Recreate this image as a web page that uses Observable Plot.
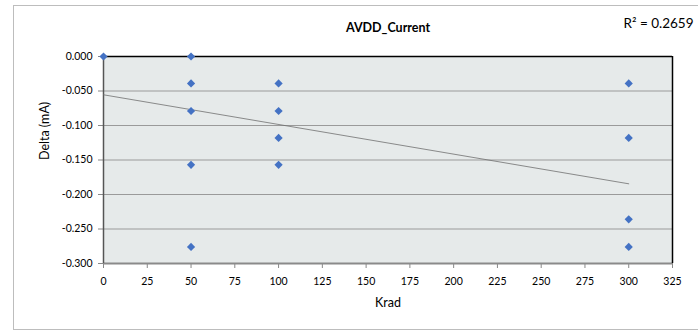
<!DOCTYPE html>
<html>
<head>
<meta charset="utf-8">
<script src="https://cdn.jsdelivr.net/npm/d3@7"></script>
<script src="https://cdn.jsdelivr.net/npm/@observablehq/plot@0.6"></script>
<style>
  body { margin: 0; background: #fff; }
  #wrap { position: relative; width: 698px; height: 336px; }
  #border { position: absolute; left: 13px; top: 5px; width: 690px; height: 325px; border: 1px solid #bdbdbd; box-sizing: border-box; }
  #wrap svg { position: absolute; left: 0; top: 0; }
</style>
</head>
<body>
<div id="wrap"><div id="border"></div></div>
<script>
// Data
const krad  = [0,     50,     50,     50,     50,     50,     100,    100,    100,    100,    300,    300,    300,    300];
const delta = [0.000, 0.000, -0.039, -0.079, -0.157, -0.276, -0.039, -0.079, -0.118, -0.157, -0.039, -0.118, -0.236, -0.276];
const trendX = [0, 300];
const trendY = [-0.0555, -0.1845];
const xTicks = [0, 25, 50, 75, 100, 125, 150, 175, 200, 225, 250, 275, 300, 325];
const yTicks = [0, -0.05, -0.10, -0.15, -0.20, -0.25, -0.30];
const titleText = "AVDD_Current";
const r2Text = "R² = 0.2659";

const points = krad.map((k, i) => ({x: k, y: delta[i]}));
const trend = trendX.map((k, i) => ({x: k, y: trendY[i]}));

const font = "Lato, 'Open Sans', sans-serif";

const chart = Plot.plot({
  width: 698,
  height: 336,
  marginLeft: 103,
  marginRight: 26,
  marginTop: 56,
  marginBottom: 73,
  style: {fontFamily: font, fontSize: "10.5px", color: "#000", background: "transparent"},
  x: {domain: [0, 325], ticks: xTicks, tickFormat: d => String(d), label: null},
  y: {domain: [-0.3, 0], ticks: yTicks, tickFormat: d => d.toFixed(3), label: null},
  marks: [
    Plot.frame({fill: "#e6eaea", stroke: null}),
    Plot.gridY(yTicks, {stroke: "#9a9a9a", strokeOpacity: 1, strokeWidth: 1}),
    Plot.axisX({ticks: xTicks, tickFormat: d => String(d), tickSize: 5, tickPadding: 9, stroke: "#888", fontSize: 10.5, label: null}),
    Plot.axisY({ticks: yTicks, tickFormat: d => d.toFixed(3), tickSize: 5, tickPadding: 6, stroke: "#888", fontSize: 10.5, label: null}),
    Plot.ruleY([-0.3], {stroke: "#8a8a8a", strokeWidth: 2}),
    Plot.ruleY([0], {stroke: "#000", strokeWidth: 1.5}),
    Plot.ruleX([325], {stroke: "#000", strokeWidth: 1.5}),
    Plot.ruleX([0], {stroke: "#555", strokeWidth: 1.5}),
    Plot.line(trend, {x: "x", y: "y", stroke: "#707070", strokeWidth: 0.8}),
    Plot.dot(points, {x: "x", y: "y", symbol: "diamond2", r: 3.7, fill: "#4472c4", stroke: null}),
    Plot.text([titleText], {text: d => d, frameAnchor: "top", dy: -33, fontWeight: "bold", fontSize: 12.5}),
    Plot.text([r2Text], {text: d => d, frameAnchor: "top-right", dx: 21, dy: -38, textAnchor: "end", fontSize: 13.5}),
    Plot.text(["Krad"], {text: d => d, frameAnchor: "bottom", dy: 43, fontSize: 12.5}),
    Plot.text(["Delta (mA)"], {text: d => d, frameAnchor: "left", dx: -59, rotate: -90, fontSize: 12.5})
  ]
});
document.getElementById("wrap").appendChild(chart);
</script>
</body>
</html>
